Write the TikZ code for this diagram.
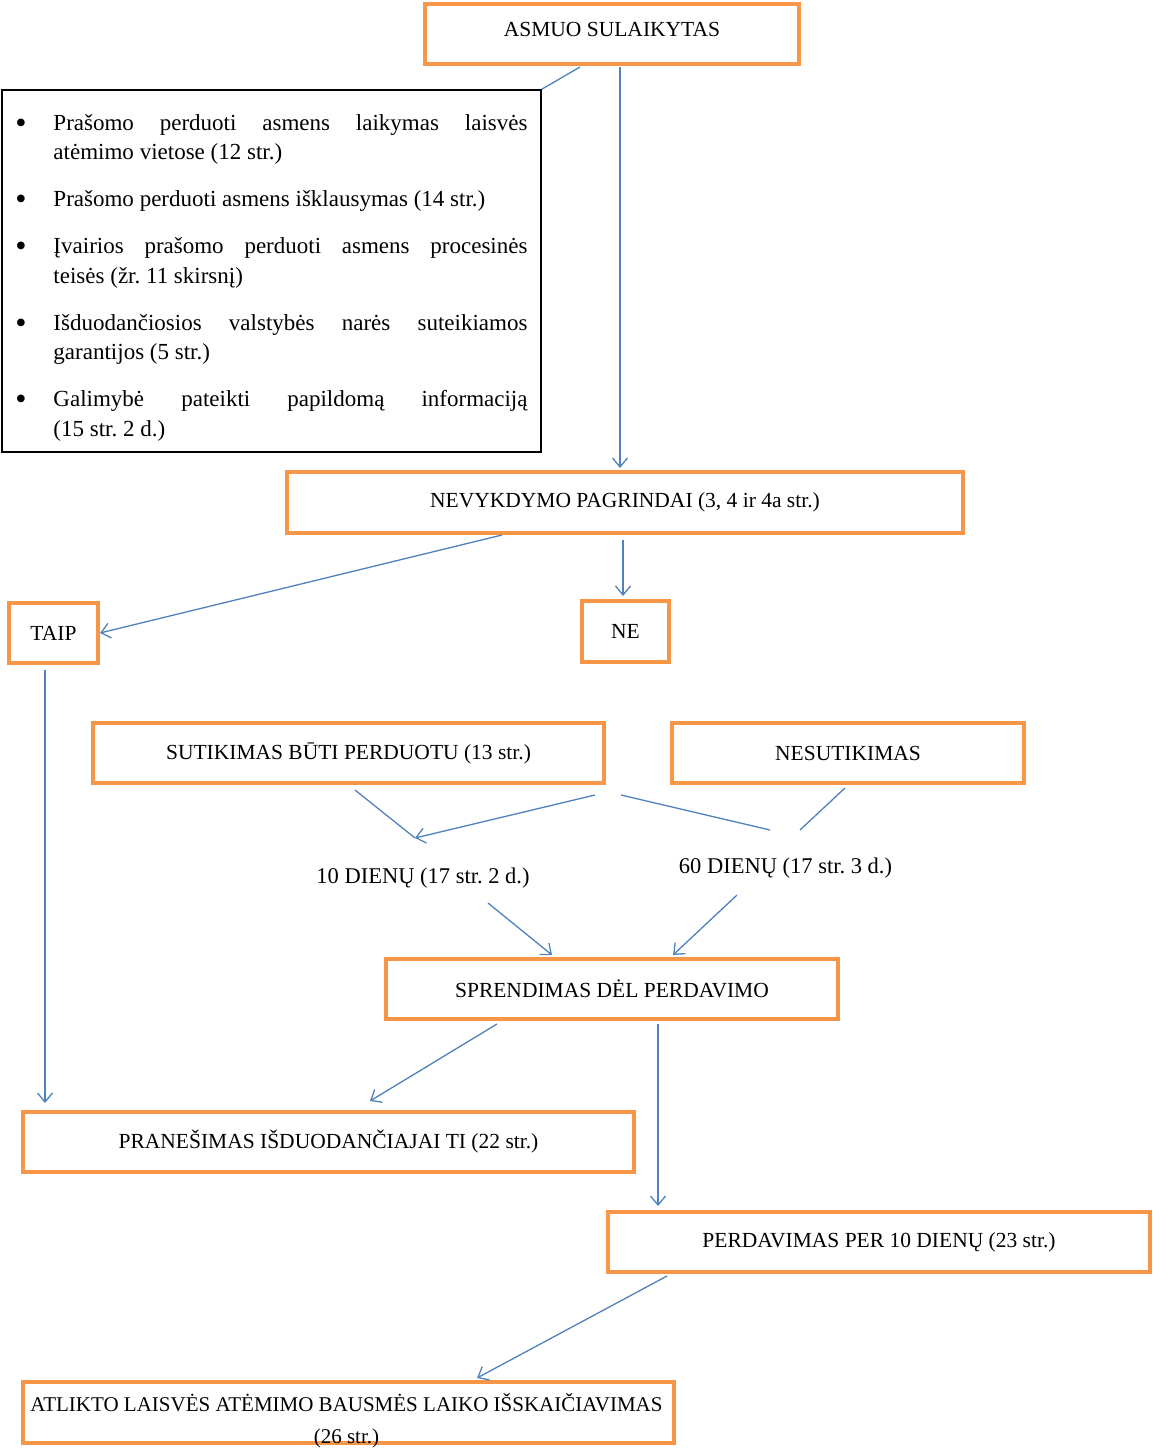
\documentclass[tikz,border=0pt]{standalone}
\usepackage{fontspec}
\setmainfont{Liberation Serif}
\usetikzlibrary{arrows.meta,calc}

\definecolor{boxorange}{HTML}{F79646}
\definecolor{lineblue}{HTML}{4F81BD}

% One bullet line of the rights box
\newcommand{\listitem}[1]{\noindent\hangindent=38pt\hangafter=1%
    \makebox[38pt][l]{\raisebox{-3pt}{\fontsize{32}{0}\selectfont\textbullet}}#1\par}

\frenchspacing

\begin{document}
\begin{tikzpicture}[
    x=1pt,
    y=-1pt,
    font=\fontsize{21.5}{25}\selectfont,
    box/.style={draw=boxorange, line width=4pt, minimum height=60pt, inner sep=0pt, align=center},
    listbox/.style={draw=black, line width=1.5pt, inner xsep=13.5pt, inner ysep=0pt,
        text width=512pt, align=justify, minimum width=539pt, minimum height=362pt},
    limit/.style={font=\fontsize{22.5}{25}\selectfont},
    link/.style={draw=lineblue, line width=1.3pt},
    arrow/.style={link, -{Straight Barb[length=9pt,width=15pt]}},
]

% Keep the page at the size of the original
\useasboundingbox (0,0) rectangle (1154,1448);

% Boxes
\node[box, minimum width=374pt, text depth=10pt] (asmuo) at (612,34) {ASMUO SULAIKYTAS};
\node[box, minimum width=676pt, minimum height=61pt] (nevyk) at (625,502.5) {NEVYKDYMO PAGRINDAI (3, 4 ir 4a str.)};
\node[box, minimum width=89pt] (taip) at (53.5,633) {TAIP};
\node[box, minimum width=87pt, minimum height=61pt] (ne) at (625.5,631.5) {NE};
\node[box, minimum width=511pt] (sutik) at (348.5,753) {SUTIKIMAS BŪTI PERDUOTU (13 str.)};
\node[box, minimum width=352pt] (nesut) at (848,753) {NESUTIKIMAS};
\node[box, minimum width=452pt] (sprend) at (612,989) {SPRENDIMAS DĖL PERDAVIMO};
\node[box, minimum width=611pt] (pran) at (328.5,1142) {PRANEŠIMAS IŠDUODANČIAJAI TI (22 str.)};
\node[box, minimum width=542pt] (perd) at (879,1242) {PERDAVIMAS PER 10 DIENŲ (23 str.)};
\node[box, minimum width=651pt, minimum height=61pt] (atl) at (348.5,1412.5) {};
\node[align=center, font=\fontsize{21}{32}\selectfont] (atltekstas) at (346.5,1421)
    {ATLIKTO LAISVĖS ATĖMIMO BAUSMĖS LAIKO IŠSKAIČIAVIMAS\\(26 str.)};

% Rights of the person
\node[listbox] (teises) at (271.5,271) {%
    \fontsize{23}{29.5}\selectfont\setlength{\parskip}{17.5pt}%
    \listitem{\rule{0pt}{29pt}Prašomo perduoti asmens laikymas laisvės\linebreak atėmimo vietose (12 str.)}
    \listitem{Prašomo perduoti asmens išklausymas (14 str.)}
    \listitem{Įvairios prašomo perduoti asmens procesinės\linebreak teisės (žr. 11 skirsnį)}
    \listitem{Išduodančiosios valstybės narės suteikiamos\linebreak garantijos (5 str.)}
    \listitem{Galimybė pateikti papildomą informaciją\linebreak (15 str. 2 d.)}%
};

% Time limits
\node[limit] (dienos10) at (423,878) {10 DIENŲ (17 str. 2 d.)};
\node[limit] (dienos60) at (785.5,868) {60 DIENŲ (17 str. 3 d.)};

% Loose ends of the consent lines
\coordinate (j1) at (415,838);
\coordinate (j2a) at (770,830);
\coordinate (j2b) at (800,830);

% Connectors
\draw[link] ($(asmuo.south)+(-32,1)$) -- (teises.north east);
\draw[arrow] ($(asmuo.south)+(8,1)$) -- ($(nevyk.north)+(-5,-2)$);
\draw[arrow] ($(nevyk.south)+(-123,0)$) -- (taip.east);
\draw[arrow] ($(nevyk.south)+(-2,5)$) -- ($(ne.north)+(-2.5,-3)$);
\draw[arrow] ($(taip.south)+(-8.5,5)$) -- ($(pran.north)+(-283.5,-7)$);

\draw[link] ($(sutik.south)+(6.5,5)$) -- (j1);
\draw[arrow] ($(sutik.south east)+(-11,10)$) -- (j1);
\draw[link] ($(sutik.south east)+(15,10)$) -- (j2a);
\draw[link] ($(nesut.south)+(-3,3)$) -- (j2b);

\draw[arrow] ($(dienos10)+(65,25)$) -- ($(sprend.north)+(-60,-2)$);
\draw[arrow] ($(dienos60)+(-48.5,27)$) -- ($(sprend.north)+(61,-2)$);

\draw[arrow] ($(sprend.south)+(-115,3)$) -- ($(pran.north)+(41.5,-9)$);
\draw[arrow] ($(sprend.south)+(46,3)$) -- ($(perd.north)+(-221,-4)$);
\draw[arrow] ($(perd.south)+(-212,2)$) -- ($(atl.north)+(128.5,-2)$);

\end{tikzpicture}
\end{document}
